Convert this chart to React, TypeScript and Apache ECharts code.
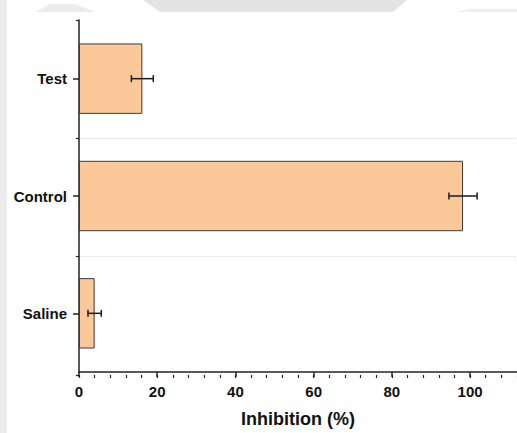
import React, { useEffect, useRef } from "react";
import * as echarts from "echarts";

const categories = ["Saline", "Control", "Test"];
const means = [4.0, 98.2, 16.2];
const errors = [1.7, 3.6, 2.8];
const xMax = 112;
const xTitle = "Inhibition (%)";

const FONT = "'Liberation Sans', Arial, sans-serif";

export default function App() {
  const ref = useRef<HTMLDivElement>(null);
  useEffect(() => {
    if (!ref.current) return;
    const chart = echarts.init(ref.current, undefined, { renderer: "svg" });
    const errorData = categories.map((_, i) => [i, means[i] - errors[i], means[i] + errors[i]]);
    const gridBox = { left: 79, top: 20, width: 441, height: 355 };
    chart.setOption({
      animation: false,
      backgroundColor: "#ffffff",
      graphic: [
        { type: "rect", shape: { x: 0, y: 0, width: 7, height: 433 }, style: { fill: "#ececec" }, z: -10 },
        { type: "polygon", shape: { points: [[143, 0], [407, 0], [393, 12], [160, 12]] }, style: { fill: "#e3e3e3" }, z: -10 },
        { type: "polygon", shape: { points: [[35, 12], [50, 4], [75, 4], [95, 12]] }, style: { fill: "#ececec" }, z: -10 },
        { type: "polygon", shape: { points: [[455, 12], [470, 9], [517, 9], [517, 12]] }, style: { fill: "#efefef" }, z: -10 },
      ],
      grid: [
        { ...gridBox, containLabel: false },
        { ...gridBox, containLabel: false },
      ],
      xAxis: [
        {
          type: "value",
          gridIndex: 0,
          min: 0,
          max: xMax,
          interval: 20,
          name: xTitle,
          nameLocation: "middle",
          nameGap: 38,
          nameTextStyle: { fontFamily: FONT, fontWeight: "bold", fontSize: 18, color: "#111" },
          axisLine: { show: true, lineStyle: { color: "#222", width: 1.5 } },
          axisTick: { show: true, length: 5, lineStyle: { color: "#222", width: 1.5 } },
          axisLabel: {
            showMaxLabel: false,
            margin: 12,
            fontFamily: FONT,
            fontWeight: "bold",
            fontSize: 15,
            color: "#111",
          },
          splitLine: { show: false },
        },
        {
          type: "value",
          gridIndex: 1,
          min: 0,
          max: xMax,
          interval: 4,
          axisLine: { show: false },
          axisTick: { show: true, length: 3, lineStyle: { color: "#222", width: 1.2 } },
          axisLabel: { show: false },
          splitLine: { show: false },
        },
      ],
      yAxis: [
        {
          type: "category",
          gridIndex: 0,
          data: categories,
          axisLine: { show: true, lineStyle: { color: "#222", width: 1.5 } },
          axisTick: { show: true, alignWithLabel: true, length: 6, lineStyle: { color: "#222", width: 1.5 } },
          axisLabel: {
            margin: 12,
            fontFamily: FONT,
            fontWeight: "bold",
            fontSize: 15,
            color: "#111",
          },
          splitLine: { show: false },
        },
        {
          type: "category",
          gridIndex: 1,
          data: categories,
          axisLine: { show: false },
          axisTick: { show: true, alignWithLabel: false, length: 3, lineStyle: { color: "#222", width: 1.2 } },
          axisLabel: { show: false },
          splitLine: {
            show: true,
            showMinLine: false,
            showMaxLine: false,
            lineStyle: { color: "#d8d8d8", type: "dotted", width: 1 },
          },
        },
      ],
      series: [
        {
          type: "bar",
          xAxisIndex: 0,
          yAxisIndex: 0,
          data: means,
          barWidth: "60%",
          itemStyle: { color: "#fbc999", borderColor: "#3a3a3a", borderWidth: 1 },
          z: 2,
        },
        {
          type: "custom",
          xAxisIndex: 0,
          yAxisIndex: 0,
          data: errorData,
          encode: { x: [1, 2], y: 0 },
          z: 10,
          renderItem: (params: any, api: any) => {
            const ci = api.value(0);
            const lo = api.coord([api.value(1), ci]);
            const hi = api.coord([api.value(2), ci]);
            const h = 3.5;
            const style = { stroke: "#1a1a1a", lineWidth: 1.5, fill: "none" };
            return {
              type: "group",
              children: [
                { type: "line", shape: { x1: lo[0], y1: lo[1], x2: hi[0], y2: hi[1] }, style },
                { type: "line", shape: { x1: lo[0], y1: lo[1] - h, x2: lo[0], y2: lo[1] + h }, style },
                { type: "line", shape: { x1: hi[0], y1: hi[1] - h, x2: hi[0], y2: hi[1] + h }, style },
              ],
            };
          },
        },
      ],
    });
    return () => chart.dispose();
  }, []);
  return (
    <div
      ref={ref}
      style={{ position: "absolute", left: 0, top: 0, width: 517, height: 433, background: "#fff" }}
    />
  );
}
